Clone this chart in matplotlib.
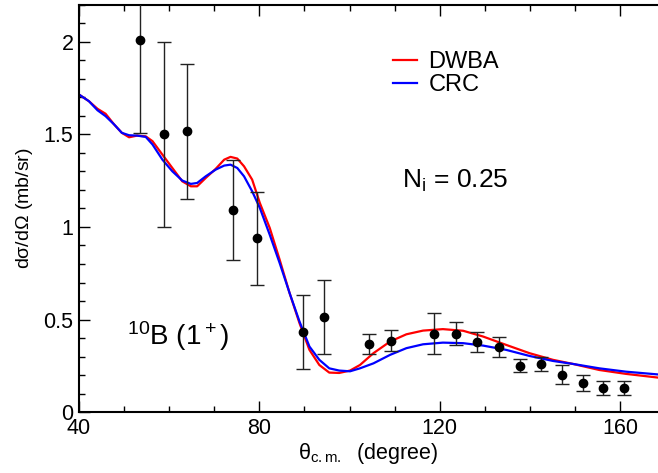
import numpy as np
import matplotlib
matplotlib.use('Agg')
import matplotlib.pyplot as plt
from matplotlib.ticker import MultipleLocator

plt.rcParams['font.family'] = ['Liberation Sans', 'DejaVu Sans']
plt.rcParams['mathtext.fontset'] = 'custom'
plt.rcParams['mathtext.rm'] = 'Liberation Sans'
plt.rcParams['mathtext.it'] = 'Liberation Sans'

# measured cross sections
theta_exp = [53.6, 58.8, 63.9, 74.2, 79.4, 89.6, 94.4, 104.2, 109.2, 118.8,
             123.5, 128.3, 133.1, 137.7, 142.4, 147.1, 151.7, 156.1, 160.8]
sigma_exp = [2.01, 1.50, 1.518, 1.09, 0.938, 0.435, 0.511, 0.366, 0.386, 0.424,
             0.424, 0.379, 0.352, 0.249, 0.258, 0.202, 0.155, 0.130, 0.128]
sigma_err = [0.50, 0.50, 0.365, 0.27, 0.25, 0.20, 0.20, 0.053, 0.055, 0.11,
             0.063, 0.055, 0.052, 0.035, 0.038, 0.05, 0.043, 0.037, 0.037]

# calculations
theta_th = [40, 42.2, 44.1, 45.9, 47.8, 49.5, 51.1, 52.9, 54.8, 56.3, 58.5,
            60.7, 62.9, 64.8, 66.2, 68.1, 70.3, 72.2, 73.6, 75.1, 76.6, 78.4,
            80.1, 82.3, 84.5, 86.7, 88.9, 91.1, 93.3, 95.5, 97.7, 100.1, 102.3,
            105.3, 109.0, 112.6, 116.3, 120.7, 125.2, 129.6, 134.7, 139.9,
            145.1, 149.5, 155.4, 161.3, 168.4]
dwba = [1.716, 1.68, 1.639, 1.612, 1.554, 1.509, 1.485, 1.494, 1.49, 1.464,
        1.391, 1.319, 1.247, 1.22, 1.22, 1.265, 1.314, 1.364, 1.379, 1.37,
        1.328, 1.256, 1.13, 0.995, 0.823, 0.643, 0.48, 0.336, 0.254, 0.213,
        0.211, 0.224, 0.254, 0.318, 0.381, 0.42, 0.44, 0.448, 0.439, 0.408,
        0.363, 0.318, 0.282, 0.26, 0.227, 0.206, 0.186]
crc = [1.716, 1.68, 1.631, 1.599, 1.554, 1.509, 1.496, 1.494, 1.487, 1.446,
       1.364, 1.301, 1.251, 1.233, 1.238, 1.274, 1.31, 1.332, 1.337, 1.319,
       1.274, 1.193, 1.103, 0.958, 0.805, 0.643, 0.489, 0.354, 0.282, 0.236,
       0.224, 0.22, 0.236, 0.263, 0.309, 0.345, 0.366, 0.375, 0.372, 0.359,
       0.336, 0.303, 0.276, 0.26, 0.236, 0.218, 0.203]

fig = plt.figure(figsize=(6.58, 4.73), dpi=100)
ax = fig.add_axes([79 / 658, 61 / 473, 1 - 79 / 658, 407 / 473])

ax.plot(theta_th, dwba, color='red', lw=1.6, label='DWBA')
ax.plot(theta_th, crc, color='blue', lw=1.6, label='CRC')
ax.errorbar(theta_exp, sigma_exp, yerr=sigma_err, fmt='o', color='black',
            ecolor='#222222', elinewidth=1.0, capsize=5, capthick=1.0,
            markersize=6, zorder=3, clip_on=True)

ax.set_xlim(40, 168.4)
ax.set_ylim(0, 2.2)
ax.xaxis.set_major_locator(MultipleLocator(40))
ax.xaxis.set_minor_locator(MultipleLocator(10))
ax.yaxis.set_major_locator(MultipleLocator(0.5))
ax.yaxis.set_minor_locator(MultipleLocator(0.1))
ax.set_yticks([0, 0.5, 1, 1.5, 2])
ax.set_yticklabels(['0', '0.5', '1', '1.5', '2'])
ax.tick_params(which='both', direction='in', top=True, right=False,
               labelsize=15.5, width=1.0)
ax.tick_params(which='major', length=8, pad=4)
ax.tick_params(which='minor', length=4.5)
ax.spines['right'].set_visible(False)
for s in ['left', 'bottom', 'top']:
    ax.spines[s].set_linewidth(1.5)

ax.set_xlabel(r'$\mathregular{\theta_{c.m.}}$  (degree)', fontsize=15.5, labelpad=2)
ax.set_ylabel(r'd$\mathregular{\sigma}$/d$\mathregular{\Omega}$ (mb/sr)', fontsize=14, labelpad=6)

ax.legend(loc='center left', bbox_to_anchor=(393 / 658, 1 - 73.5 / 473),
          bbox_transform=fig.transFigure, frameon=False, fontsize=17,
          handlelength=1.0, handletextpad=0.5, labelspacing=0.05,
          borderpad=0, borderaxespad=0)

fig.text(402 / 658, 1 - 188 / 473, r'$\mathregular{N_i}$ = 0.25', fontsize=19,
         va='baseline', ha='left')
fig.text(127 / 658, 1 - 345 / 473, r'$\mathregular{^{10}B\ (1^+)}$', fontsize=20,
         va='baseline', ha='left')

fig.savefig('out.png', dpi=100)
